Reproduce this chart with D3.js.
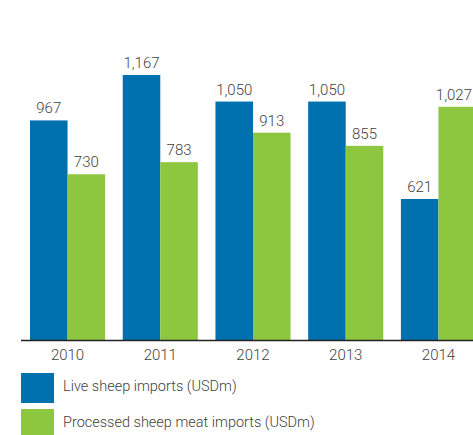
<!DOCTYPE html>
<html><head><meta charset="utf-8">
<script src="https://cdn.jsdelivr.net/npm/d3@7"></script>
<style>body{margin:0;background:#fff}svg{display:block}text{font-family:Roboto,"DejaVu Sans",sans-serif;fill:#3f3f3f;font-weight:300}</style>
</head><body>
<svg id="c" width="473" height="435"></svg>
<script>
const years = ["2010","2011","2012","2013","2014"];
const liveSheep = [967,1167,1050,1050,621];
const processedMeat = [730,783,913,855,1027];
const seriesNames = ["Live sheep imports (USDm)","Processed sheep meat imports (USDm)"];
const colors = ["#0071AE","#8DC63F"];

const W = 473;
const svg = d3.select("#c");
const baseY = 340;
const x0 = d3.scaleBand().domain(years).range([30,476]).paddingInner(0.19).paddingOuter(0);
const x1 = d3.scaleBand().domain([0,1]).range([0,x0.bandwidth()]);
const y = d3.scaleLinear().domain([0,1167]).range([baseY,75]);
const fmt = d3.format(",");

const data = years.map((yr,i)=>({yr, vals:[liveSheep[i],processedMeat[i]]}));
const g = svg.selectAll("g.grp").data(data).join("g").attr("class","grp")
  .attr("transform",d=>`translate(${x0(d.yr)},0)`);
g.selectAll("rect").data(d=>d.vals.map((v,k)=>({v,k,yr:d.yr}))).join("rect")
  .attr("x",d=>x1(d.k)).attr("width",x1.bandwidth())
  .attr("y",d=>y(d.v)).attr("height",d=>baseY-y(d.v))
  .attr("fill",d=>colors[d.k]);
g.selectAll("text.val").data(d=>d.vals.map((v,k)=>({v,k,yr:d.yr}))).join("text").attr("class","val")
  .attr("y",d=>y(d.v)-7)
  .attr("text-anchor","middle").attr("font-size",15).text(d=>fmt(d.v))
  .attr("x",function(d){
    const c = x1(d.k)+x1.bandwidth()/2;
    const w = this.getComputedTextLength();
    const maxC = W - 1 - w/2 - x0(d.yr);
    return Math.min(c, maxC);
  });

// axis
const ax = svg.append("g").attr("transform",`translate(0,${baseY})`)
  .call(d3.axisBottom(x0).tickSize(0).tickPadding(9));
ax.select(".domain").attr("d","M21,0.5H473").attr("stroke","#222").attr("stroke-width",1.3);
ax.selectAll("text").attr("font-size",15).style("font-family","Roboto").style("font-weight",300).attr("fill","#3f3f3f");

// legend
const lg = svg.selectAll("g.leg").data(seriesNames).join("g").attr("class","leg")
  .attr("transform",(d,i)=>`translate(21,${373+i*36})`);
lg.append("rect").attr("width",33).attr("height",30).attr("fill",(d,i)=>colors[i]);
lg.append("text").attr("x",42).attr("y",18).attr("font-size",14.5).text(d=>d);
</script>
</body></html>
